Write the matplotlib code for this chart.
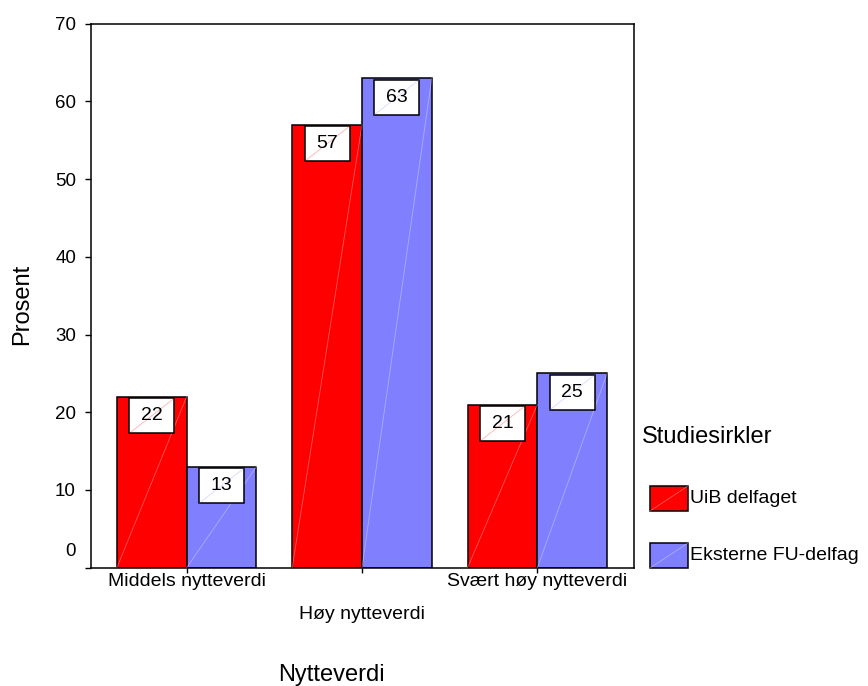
import matplotlib
matplotlib.use('Agg')
import matplotlib.pyplot as plt
from matplotlib.patches import Rectangle
import numpy as np

plt.rcParams['font.family'] = ['Liberation Sans', 'DejaVu Sans']

kategorier = ['Middels nytteverdi', 'Høy nytteverdi', 'Svært høy nytteverdi']
uib = [22, 57, 21]
eksterne = [13, 63, 25]
serier = ['UiB delfaget', 'Eksterne FU-delfag']
farger = ['#ff0000', '#8080ff']
yticks = [0, 10, 20, 30, 40, 50, 60, 70]

W, H = 868, 686
fig = plt.figure(figsize=(W / 100, H / 100), dpi=100)

# akse-rammen i piksler (venstre, topp, høyre, bunn)
L, T, R, B = 91, 23.7, 633.5, 567.7
ax = fig.add_axes([L / W, 1 - B / H, (R - L) / W, (B - T) / H])

x = np.arange(len(kategorier))
bredde = 0.398

for i, (verdier, farge) in enumerate(zip([uib, eksterne], farger)):
    pos = x - bredde / 2 + i * bredde
    ax.bar(pos, verdier, width=bredde, color=farge, edgecolor='black',
           linewidth=1.1, zorder=2)
    for xp, v in zip(pos, verdier):
        # tynn diagonal over søylen
        ax.plot([xp - bredde / 2, xp + bredde / 2], [0, v], color='white',
                alpha=0.35, linewidth=0.6, zorder=3)
        # verdiboks rett under toppen av søylen
        bw, bh = 0.256, 4.5
        topp = v - 0.2
        ax.add_patch(Rectangle((xp - bw / 2, topp - bh), bw, bh,
                               facecolor='white', edgecolor='black',
                               linewidth=1.1, zorder=4))
        ax.plot([xp - bw / 2, xp + bw / 2], [topp - bh, topp], color=farge,
                alpha=0.3, linewidth=0.6, zorder=5)
        ax.text(xp, topp - bh / 2, f'{v}', ha='center', va='center',
                fontsize=14, zorder=6)

ax.set_xlim(-(187 - L) / 176, 2 + (R - 537) / 176)
ax.set_ylim(0, 70)
ax.set_yticks(yticks)
ax.set_yticklabels([''] + [str(t) for t in yticks[1:]], fontsize=13.5)
ax.set_xticks(x)
ax.set_xticklabels(kategorier, fontsize=14)

ax.tick_params(axis='y', direction='out', length=4.3, width=1.0, pad=6.5)
ax.tick_params(axis='x', direction='out', length=3.6, width=1.0, pad=0.5)
ax.xaxis.get_major_ticks()[1].set_pad(24.3)

# nullpunktet står litt over aksen
ax.annotate('0', xy=(0, 0), xycoords=('axes fraction', 'data'),
            xytext=(-10.8, 11.5), textcoords='offset points',
            ha='right', va='center', fontsize=13.5)

for s in ax.spines.values():
    s.set_linewidth(1.1)

fig.text(22 / W, 1 - 304 / H, 'Prosent', rotation=90, ha='center',
         va='center', fontsize=17)
fig.text(331 / W, 1 - 681 / H, 'Nytteverdi', ha='center', va='baseline',
         fontsize=17)

# forklaring til høyre for diagrammet
fig.text(642 / W, 1 - 437 / H, 'Studiesirkler', ha='left', va='center',
         fontsize=17)
for navn, farge, (y0, y1) in zip(serier, farger, [(486, 511), (543, 568)]):
    fig.add_artist(Rectangle((650 / W, 1 - y1 / H), 38 / W, (y1 - y0) / H,
                             transform=fig.transFigure, facecolor=farge,
                             edgecolor='black', linewidth=1.1))
    fig.add_artist(plt.Line2D([650 / W, 688 / W], [1 - y1 / H, 1 - y0 / H],
                              transform=fig.transFigure, color='white',
                              alpha=0.35, linewidth=0.6))
    fig.text(690 / W, 1 - (y0 + y1) / 2 / H, navn, ha='left', va='center',
             fontsize=14)

fig.savefig('out.png', dpi=100)
